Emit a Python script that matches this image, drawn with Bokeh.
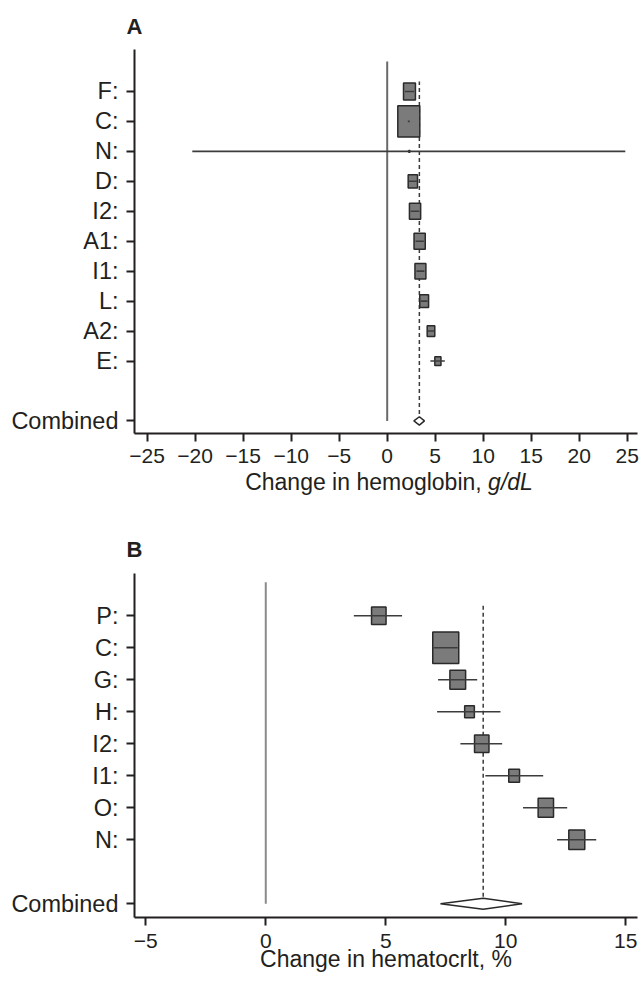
import numpy as np
from bokeh.plotting import figure
from bokeh.layouts import column
from bokeh.models import FixedTicker, Range1d, Div
from bokeh.embed import file_html
from bokeh.resources import INLINE

# ---------------- data: panel A (hemoglobin) ----------------
a_labels = ["F:", "C:", "N:", "D:", "I2:", "A1:", "I1:", "L:", "A2:", "E:"]
a_est = [2.32, 2.25, 2.30, 2.67, 2.90, 3.38, 3.46, 3.85, 4.56, 5.28]
a_lo = [1.85, 2.15, -20.3, 2.25, 2.45, 2.95, 3.05, 3.50, 4.22, 4.50]
a_hi = [2.80, 2.35, 24.8, 3.10, 3.35, 3.82, 3.88, 4.20, 4.90, 6.00]
a_weight = [11.3, 38.4, 0.1, 6.9, 10.0, 10.0, 9.5, 6.2, 4.6, 3.0]
a_comb = [3.35, 2.78, 3.88]          # estimate, lower, upper
a_xticks = [-25, -20, -15, -10, -5, 0, 5, 10, 15, 20, 25]
a_xlabel = "Change in hemoglobin, "
a_xunit = "g/dL"

# ---------------- data: panel B (hematocrit) ----------------
b_labels = ["P:", "C:", "G:", "H:", "I2:", "I1:", "O:", "N:"]
b_est = [4.71, 7.50, 8.00, 8.49, 9.00, 10.35, 11.67, 12.96]
b_lo = [3.67, 7.00, 7.18, 7.14, 8.11, 9.15, 10.72, 12.14]
b_hi = [5.68, 8.00, 8.81, 9.78, 9.85, 11.56, 12.56, 13.77]
b_weight = [10.3, 33.1, 12.1, 4.6, 10.2, 5.7, 11.6, 12.5]
b_comb = [9.06, 7.28, 10.68]
b_xticks = [-5, 0, 5, 10, 15]
b_xlabel = "Change in hematocrlt, %"

FONT = "Liberation Sans"
INK = "#231f20"


def forest(labels, est, lo, hi, weight, comb, xticks, xr, yr, width, height,
           border, title, title_standoff, tick_standoff, box_k, box_aspect,
           diamond_h, zero_top, dash_top, zero_color):
    n = len(labels)
    rows = [n + 1 - i for i in range(n)]
    p = figure(width=width, height=height, output_backend="svg",
               toolbar_location=None, x_range=Range1d(*xr), y_range=Range1d(*yr),
               min_border_left=border[0], min_border_right=border[1],
               min_border_top=border[2], min_border_bottom=border[3])
    p.outline_line_color = None
    p.grid.visible = False
    p.background_fill_color = "white"
    p.border_fill_color = "white"

    # title
    p.title.text = title
    p.title.text_font = FONT
    p.title.text_font_size = "22px"
    p.title.text_font_style = "bold"
    p.title.text_color = INK
    p.title.align = "left"
    p.title.offset = -8
    p.title.standoff = title_standoff

    # axes
    for ax in (p.xaxis[0], p.yaxis[0]):
        ax.axis_line_color = INK
        ax.axis_line_width = 2
        ax.major_tick_line_color = INK
        ax.major_tick_line_width = 2
        ax.major_tick_out = 8
        ax.major_tick_in = 0
        ax.minor_tick_line_color = None
        ax.major_label_text_font = FONT
        ax.major_label_text_color = INK
        ax.axis_label_text_font = FONT
        ax.axis_label_text_color = INK
        ax.axis_label_text_font_style = "normal"
    p.yaxis.ticker = FixedTicker(ticks=[0] + rows)
    overrides = {r: lab for r, lab in zip(rows, labels)}
    overrides[0] = "Combined"
    p.yaxis.major_label_overrides = overrides
    p.yaxis.major_label_text_font_size = "23.5px"
    p.yaxis.major_label_standoff = 8
    p.xaxis.ticker = FixedTicker(ticks=xticks)
    p.xaxis.major_label_overrides = {t: (str(t).replace("-", "\u2212")) for t in xticks}
    p.xaxis.major_label_text_font_size = "21px"
    p.xaxis.major_label_standoff = tick_standoff
    p.xaxis.axis_label_text_font_size = "23px"

    # zero line and combined-estimate dashed line
    p.segment(x0=[0], y0=[0], x1=[0], y1=[zero_top], line_color=zero_color, line_width=2)
    p.segment(x0=[comb[0]], y0=[0], x1=[comb[0]], y1=[dash_top], line_color="#3a3a3a",
              line_width=1.5, line_dash="4 3")

    # boxes (area proportional to weight)
    sides = [box_k * np.sqrt(w) for w in weight]
    p.rect(x=est, y=rows, width=sides, height=[s * box_aspect for s in sides],
           width_units="screen", height_units="screen",
           fill_color="#7b7b7b", line_color="#2a2a2a", line_width=1.5)
    # confidence intervals
    p.segment(x0=lo, y0=rows, x1=hi, y1=rows, line_color="#3c3c3c", line_width=1.6)

    # combined diamond
    p.patches(xs=[[comb[1], comb[0], comb[2], comb[0]]],
              ys=[[0, diamond_h, 0, -diamond_h]],
              fill_color="white", line_color="#2a2a2a", line_width=1.5)
    return p


pA = forest(a_labels, a_est, a_lo, a_hi, a_weight, a_comb, a_xticks,
            xr=(-26.32, 26.07), yr=(-0.42, 12.4), width=641, height=473,
            border=(134, 4, 48, 40), title="A", title_standoff=22, tick_standoff=7,
            box_k=3.55, box_aspect=1.42, diamond_h=0.14, zero_top=12.0,
            dash_top=11.33, zero_color="#6a6a6a")

# axis label of panel A (unit in italics)
labA = Div(text=('<div style="width:510px; margin-left:134px; margin-top:-2px; '
                 'text-align:center; font-family:\'Liberation Sans\'; font-size:23px; '
                 'line-height:1; color:%s; white-space:nowrap;">%s<i>%s</i></div>')
                % (INK, a_xlabel, a_xunit),
           width=641, height=35, margin=(0, 0, 0, 0))

pB = forest(b_labels, b_est, b_lo, b_hi, b_weight, b_comb, b_xticks,
            xr=(-5.47, 15.49), yr=(-0.43, 10.32), width=641, height=476,
            border=(134, 4, 65, 67), title="B", title_standoff=23, tick_standoff=8,
            box_k=4.52, box_aspect=1.22, diamond_h=0.17, zero_top=10.05,
            dash_top=9.38, zero_color="#8a8a8a")
pB.xaxis.axis_label = b_xlabel
pB.xaxis.axis_label_standoff = -5

layout = column(pA, labA, pB, spacing=0)
open("out.html", "w").write(file_html(layout, INLINE))
